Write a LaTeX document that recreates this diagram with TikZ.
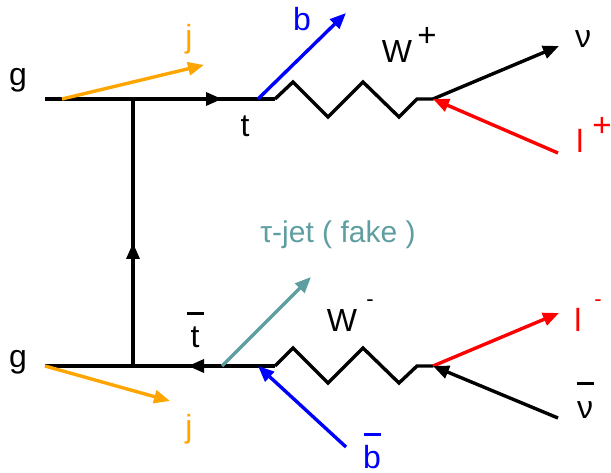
\documentclass[tikz,border=0pt]{standalone}
\usepackage{fontspec}
\setmainfont{Liberation Sans}
\usetikzlibrary{arrows.meta}
\definecolor{jetorange}{HTML}{FFA500}
\definecolor{taucol}{HTML}{5F9EA0}
\newcommand{\barlbl}[2]{\ooalign{#1\cr\hidewidth\raisebox{#2}{\rule{17pt}{2.8pt}}\hidewidth\cr}}
\begin{document}
\begin{tikzpicture}[x=1pt,y=-1pt,line width=3.4pt,line join=miter,
  tip/.style={-{Triangle[length=16pt,width=13pt]}},
  lbl/.style={font=\fontsize{32}{34}\selectfont,inner sep=0pt,anchor=base},
  sup/.style={font=\fontsize{33}{34}\selectfont,inner sep=0pt,anchor=center},
  dsh/.style={font=\fontsize{22}{24}\selectfont,inner sep=0pt,anchor=center},
  tlbl/.style={font=\fontsize{30}{32}\selectfont,inner sep=0pt,anchor=base,text=taucol}]
\useasboundingbox (0,0) rectangle (611,473);
% vertices
\coordinate (g1) at (45,99);
\coordinate (v1) at (133,99);
\coordinate (t1) at (275,99);
\coordinate (g2) at (45,366);
\coordinate (v2) at (133,366);
\coordinate (t2) at (275,366);
\coordinate (w1) at (433,99);
\coordinate (w2) at (433,366);
\coordinate (jb1) at (62,99);
\coordinate (bq1) at (258,99);
\coordinate (tq2) at (222,366);
\coordinate (bq2) at (258,366);
% arrow tips on propagators
\coordinate (a1) at (222,99);
\coordinate (a2) at (188,366);
\coordinate (a3) at (133,243);
% outer ends
\coordinate (jt) at (204,65);
\coordinate (jbt) at (170,401);
\coordinate (bt) at (346,13);
\coordinate (taut) at (311,277);
\coordinate (bbs) at (346,447);
\coordinate (nut) at (559,46);
\coordinate (lps) at (558,153);
\coordinate (lmt) at (559,313);
\coordinate (nbs) at (558,418);
% fermion lines
\draw (g1) -- (t1);
\draw[tip] (v1) -- (a1);
\draw (g2) -- (t2);
\draw[tip] (t2) -- (a2);
\draw (v2) -- (v1);
\draw[tip] (v2) -- (a3);
% W zigzags
\draw (t1) -- ++(18,-17) -- ++(35,35) -- ++(35,-35) -- ++(36,35) -- ++(18,-18) -- (w1);
\draw (t2) -- ++(18,-18) -- ++(35,35) -- ++(35,-35) -- ++(36,35) -- ++(18,-17) -- (w2);
% outgoing particles
\draw[tip,jetorange] (jb1) -- (jt);
\draw[tip,jetorange] (g2) -- (jbt);
\draw[tip,blue] (bq1) -- (bt);
\draw[tip,taucol] (tq2) -- (taut);
\draw[tip,blue] (bbs) -- (bq2);
\draw[tip] (w1) -- (nut);
\draw[tip,red] (lps) -- (w1);
\draw[tip,red] (w2) -- (lmt);
\draw[tip] (nbs) -- (w2);
% labels
\node[lbl] (lg1) at (18,86) {g};
\node[lbl] (lg2) at (18,367) {g};
\node[lbl,text=jetorange] (lj1) at (189,48) {j};
\node[lbl,text=jetorange] (lj2) at (189,437) {j};
\node[lbl,text=blue] (lb) at (302,31) {b};
\node[lbl] (lt) at (245,137) {t};
\node[lbl] (ltb) at (195,348) {\barlbl{t}{33pt}};
\node[lbl,text=blue] (lbb) at (372,468) {\barlbl{b}{32pt}};
\node[lbl] (lw1) at (397,63) {W};
\node[sup] (lw1s) at (427,37) {+};
\node[lbl] (lw2) at (342,331) {W};
\node[dsh] (lw2s) at (370,303) {-};
\node[lbl] (lnu) at (583,48) {ν};
\node[lbl] (lnub) at (585,418) {\barlbl{ν}{33pt}};
\node[lbl,text=red] (llp) at (580,153) {l};
\node[sup,text=red] (llps) at (602,127) {+};
\node[lbl,text=red] (llm) at (578,331) {l};
\node[dsh,text=red] (llms) at (598,303) {-};
\node[tlbl] (ltau) at (338,243) {τ-jet ( fake )};
\end{tikzpicture}
\end{document}
